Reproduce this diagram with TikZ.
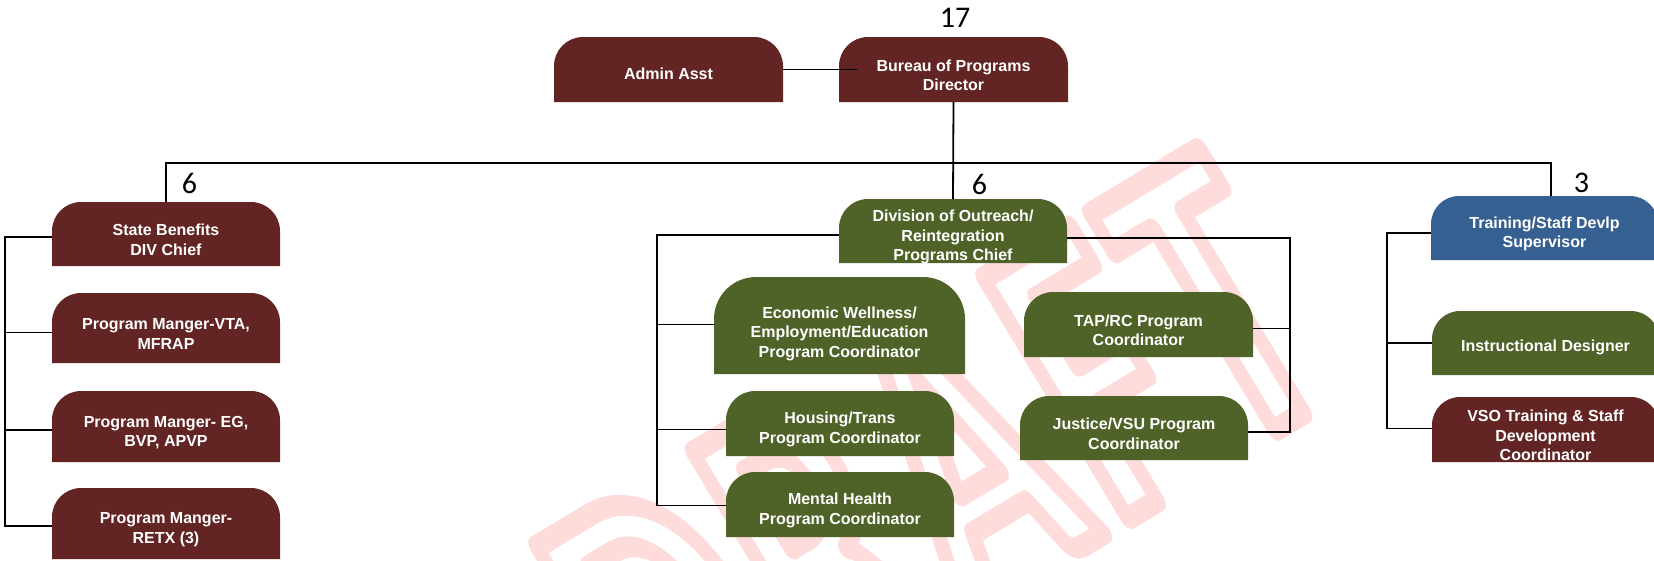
\documentclass[tikz,border=0pt]{standalone}
\usepackage{fontspec}
\setmainfont{Liberation Sans}
\newfontfamily\numfont{Carlito}
\newfontfamily\wmfont{Carlito}
\usetikzlibrary{fit}
\definecolor{boxred}{RGB}{99,37,35}
\definecolor{boxgreen}{RGB}{79,98,40}
\definecolor{boxblue}{RGB}{55,96,146}
\definecolor{wmpink}{RGB}{255,220,220}
\begin{document}
\begin{tikzpicture}[x=1pt,y=-1pt,
  conn/.style={draw=black, line width=1.8pt},
  boxtxt/.style={text=white, align=center, inner sep=0pt, font=\bfseries\fontsize{16}{19.5}\selectfont},
  num/.style={text=black, inner sep=0pt, font=\numfont\fontsize{30}{36}\selectfont},
  frame/.style={inner sep=0pt, outer sep=0pt}]
\useasboundingbox (0,0) rectangle (1654,560);
\clip (0,0) rectangle (1654,560);

% watermark (stretched outline text)
\begin{scope}[shift={(668,795)}, rotate=31, yscale=1.62]
\node[transform shape, anchor=base west, inner sep=0pt, text=wmpink,
      font=\wmfont\bfseries\fontsize{267}{267}\selectfont] (wm) at (0,0)
  {\special{pdf:literal direct 1 1 1 rg 1 0.863 0.863 RG 2 Tr 14 w 1 j}D\hspace{14pt}R\hspace{14pt}A\hspace{14pt}F\hspace{14pt}T\special{pdf:literal direct 0 Tr}};
\end{scope}

% boxes
\foreach \nm/\xa/\ya/\xb/\yb/\col/\rad in {
  admin/554/37/783/102/boxred/29,
  bur/839/37/1068/102/boxred/29,
  sb/52/202/280/266/boxred/29,
  vta/52/293/280/363/boxred/29,
  eg/52/391/280/462/boxred/29,
  retx/52/488/280/559/boxred/29,
  div/839/199/1067/263/boxgreen/29,
  eco/714/277/965/374/boxgreen/42,
  hous/726/391/954/456/boxgreen/29,
  ment/726/472/954/537/boxgreen/29,
  tap/1024/292/1253/357/boxgreen/29,
  jus/1020/396/1248/460/boxgreen/29,
  tr/1431/196/1658/260/boxblue/28,
  ins/1432/311/1659/375/boxgreen/28,
  vso/1432/397/1659/462/boxred/28}{
  \node[frame, fit={(\xa,\ya) (\xb,\yb)}] (\nm) {};
  \pgfmathsetmacro\bk{0.4477*\rad}
  \fill[fill=\col] (\nm.south west) -- ([yshift=-\rad pt]\nm.north west)
    .. controls ([yshift=-\bk pt]\nm.north west) and ([xshift=\bk pt]\nm.north west) .. ([xshift=\rad pt]\nm.north west)
    -- ([xshift=-\rad pt]\nm.north east)
    .. controls ([xshift=-\bk pt]\nm.north east) and ([yshift=-\bk pt]\nm.north east) .. ([yshift=-\rad pt]\nm.north east)
    -- (\nm.south east) -- cycle;
}

% texts
\node[boxtxt] (adminT) at ([yshift=-4.5pt]admin.center) {Admin Asst};
\node[boxtxt] (burT) at ([yshift=-6pt]bur.center) {Bureau of Programs\\Director};
\node[boxtxt] (sbT) at ([yshift=-6pt]sb.center) {State Benefits\\DIV Chief};
\node[boxtxt] (vtaT) at ([yshift=-6pt]vta.center) {Program Manger-VTA,\\MFRAP};
\node[boxtxt] (egT) at ([yshift=-6pt]eg.center) {Program Manger- EG,\\BVP, APVP};
\node[boxtxt] (retxT) at ([yshift=-6pt]retx.center) {Program Manger-\\RETX (3)};
\node[boxtxt] (divT) at ([yshift=-6pt]div.center) {Division of Outreach/\\Reintegration\\Programs Chief};
\node[boxtxt] (ecoT) at ([yshift=-8pt]eco.center) {Economic Wellness/\\Employment/Education\\Program Coordinator};
\node[boxtxt] (housT) at ([yshift=-6pt]hous.center) {Housing/Trans\\Program Coordinator};
\node[boxtxt] (mentT) at ([yshift=-6pt]ment.center) {Mental Health\\Program Coordinator};
\node[boxtxt] (tapT) at ([yshift=-6pt]tap.center) {TAP/RC Program\\Coordinator};
\node[boxtxt] (jusT) at ([yshift=-6pt]jus.center) {Justice/VSU Program\\Coordinator};
\node[boxtxt] (trT) at ([yshift=-6pt]tr.center) {Training/Staff Devlp\\Supervisor};
\node[boxtxt] (insT) at ([yshift=-4.5pt]ins.center) {Instructional Designer};
\node[boxtxt] (vsoT) at ([yshift=-6pt]vso.center) {VSO Training \& Staff\\Development\\Coordinator};

% numbers
\node[num] (n17) at (955,18) {17};
\node[num] (n6a) at (189.5,183.5) {6};
\node[num] (n6b) at (979.5,184.5) {6};
\node[num] (n3) at (1581.5,182.5) {3};

% connectors
\coordinate (bus) at (954,163.3);
\draw[conn] (admin.east) -- ([xshift=18pt]bur.west);
\draw[conn] (bur.south) -- (div.north);
\coordinate (trtop) at ([xshift=6.5pt]tr.north);
\draw[conn] (sb.north) -- (sb.north |- bus) -- (trtop |- bus) -- (trtop);

% left group
\coordinate (lb) at (5,0);
\coordinate (sbw) at ([yshift=-3pt]sb.west);
\coordinate (vtaw) at ([yshift=-4.5pt]vta.west);
\coordinate (egw) at ([yshift=-3.5pt]eg.west);
\coordinate (retxw) at ([yshift=-2.5pt]retx.west);
\draw[conn] (sbw) -| (lb |- retxw) -- (retxw);
\draw[conn] (vtaw) -- (lb |- vtaw);
\draw[conn] (egw) -- (lb |- egw);

% middle group
\coordinate (ml) at (657,0);
\coordinate (mr) at (1289.6,0);
\coordinate (divw) at ([yshift=-4pt]div.west);
\coordinate (dive) at ([yshift=-7pt]div.east);
\coordinate (ecow) at ([yshift=1pt]eco.west);
\coordinate (housw) at ([yshift=-6pt]hous.west);
\coordinate (mentw) at ([yshift=-1pt]ment.west);
\coordinate (tape) at ([yshift=-4pt]tap.east);
\coordinate (juse) at ([yshift=-4pt]jus.east);
\draw[conn] (divw) -| (ml |- mentw) -- (mentw);
\draw[conn] (ecow) -- (ml |- ecow);
\draw[conn] (housw) -- (ml |- housw);
\draw[conn] (dive) -| (mr |- juse) -- (juse);
\draw[conn] (tape) -- (mr |- tape);

% right group
\coordinate (rb) at (1386.7,0);
\coordinate (trw) at ([yshift=-5pt]tr.west);
\coordinate (insw) at (ins.west);
\coordinate (vsow) at ([yshift=1pt]vso.west);
\draw[conn] (trw) -| (rb |- vsow) -- (vsow);
\draw[conn] (insw) -- (rb |- insw);
\end{tikzpicture}
\end{document}
